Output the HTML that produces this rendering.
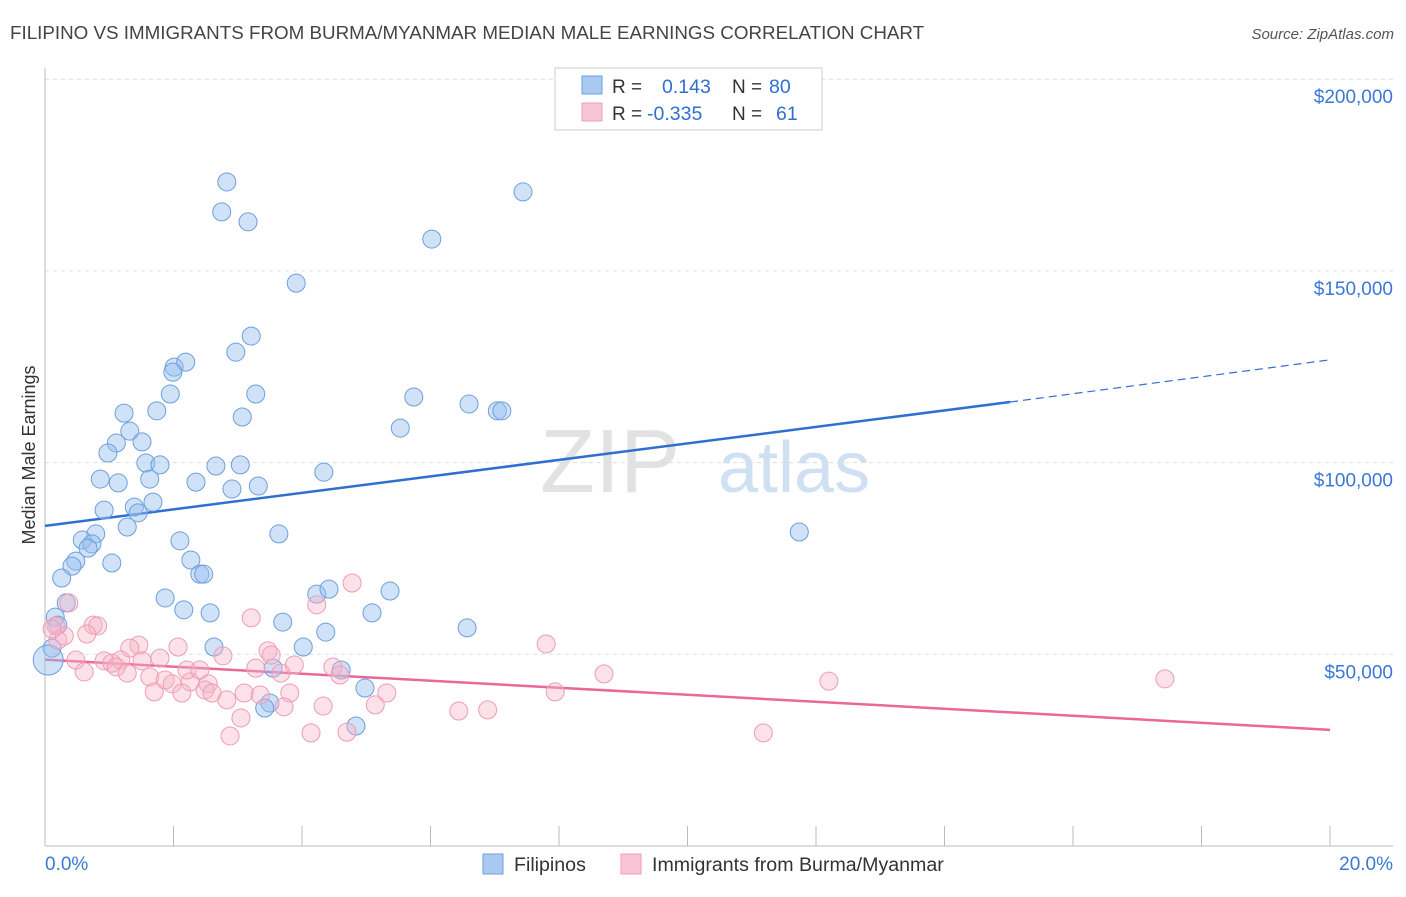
<!DOCTYPE html>
<html><head><meta charset="utf-8"><style>
body{margin:0;background:#fff;font-family:"Liberation Sans",sans-serif;}
svg text{font-family:"Liberation Sans",sans-serif;}
</style></head><body>
<svg id="chart" width="1406" height="892" xmlns="http://www.w3.org/2000/svg">
<text x="10" y="39" font-size="18.8" fill="#444">FILIPINO VS IMMIGRANTS FROM BURMA/MYANMAR MEDIAN MALE EARNINGS CORRELATION CHART</text>
<text x="1394" y="39" font-size="15" fill="#555" text-anchor="end" font-style="italic">Source: ZipAtlas.com</text>
<text x="680" y="492" font-size="90" fill="#e2e2e2" text-anchor="end" font-family="Liberation Serif">ZIP</text>
<text x="718" y="492" font-size="72" fill="#cfe0f3">atlas</text>
<text transform="translate(35,455) rotate(-90)" font-size="18" fill="#333" text-anchor="middle">Median Male Earnings</text>
<g id="grid"></g><g id="axes"></g><g id="trend"></g><g id="dots"></g>
<g>
<rect x="555" y="68" width="267" height="62" fill="#fff" stroke="#ccc"/>
<rect x="582" y="76" width="20" height="18" fill="#a9c9f2" stroke="#6d9fdc"/>
<rect x="582" y="103" width="20" height="18" fill="#f9c4d3" stroke="#ee9cb6"/>
<text x="612" y="93" font-size="19" fill="#333">R =</text><text x="662" y="93" font-size="19.5" fill="#2f6fd0">0.143</text>
<text x="732" y="93" font-size="19" fill="#333">N =</text><text x="769" y="93" font-size="19.5" fill="#2f6fd0">80</text>
<text x="612" y="120" font-size="19" fill="#333">R =</text><text x="647" y="120" font-size="19.5" fill="#2f6fd0">-0.335</text>
<text x="732" y="120" font-size="19" fill="#333">N =</text><text x="776" y="120" font-size="19.5" fill="#2f6fd0">61</text>
</g>
<g>
<rect x="483" y="854" width="20" height="20" fill="#a9c9f2" stroke="#6d9fdc"/>
<text x="514" y="871" font-size="19.6" fill="#333">Filipinos</text>
<rect x="621" y="854" width="20" height="20" fill="#f9c4d3" stroke="#ee9cb6"/>
<text x="652" y="871" font-size="19.6" fill="#333">Immigrants from Burma/Myanmar</text>
</g>
</svg>
<script>
const blueX=[2.83,2.75,3.16,7.44,6.02,3.91,3.21,2.97,2.01,2.19,1.99,1.95,3.28,5.74,6.60,7.04,7.11,1.23,1.74,3.07,1.32,5.53,1.11,1.51,0.98,1.57,1.79,2.66,3.04,4.34,0.86,1.14,1.63,2.35,2.91,3.32,1.68,1.39,0.92,1.45,1.28,3.64,11.74,0.79,0.58,0.73,0.67,2.10,2.27,0.48,0.42,1.04,2.41,2.47,0.26,1.87,2.16,2.57,0.33,4.23,4.42,5.37,5.09,0.16,0.20,3.70,4.37,6.57,2.63,4.02,0.11,0.05,3.55,4.61,4.98,3.50,3.42,4.84];
const blueY=[173.2,165.4,162.8,170.6,158.3,146.8,133.0,128.8,124.9,126.2,123.6,117.9,117.9,117.1,115.3,113.5,113.5,112.9,113.5,111.9,108.2,109.0,105.1,105.4,102.5,99.9,99.4,99.1,99.4,97.5,95.7,94.7,95.7,94.9,93.1,93.9,89.7,88.4,87.6,86.9,83.2,81.4,81.9,81.4,79.8,78.8,77.7,79.6,74.6,74.3,73.0,73.8,70.9,70.9,69.9,64.7,61.6,60.8,63.4,65.7,67.0,66.5,60.8,59.7,57.6,58.4,55.8,56.9,51.9,51.9,51.6,48.5,46.4,45.9,41.2,37.3,36.0,31.3];
const pinkX=[4.78,4.23,3.21,0.37,0.17,0.75,0.82,0.20,0.65,0.30,0.11,1.46,1.32,2.07,7.80,1.79,0.48,0.92,1.04,1.18,1.51,0.61,1.11,1.28,1.63,1.87,1.98,2.26,2.54,2.77,2.21,2.41,3.47,3.52,3.28,3.88,4.48,3.67,2.49,2.60,1.70,2.13,3.10,3.35,3.81,5.32,4.59,5.14,4.33,3.72,7.94,8.70,12.20,17.43,2.83,3.05,2.88,4.14,4.70,6.44,6.89,11.18];
const pinkY=[68.6,62.9,59.5,63.4,57.4,57.6,57.4,53.7,55.3,54.8,56.6,52.4,51.6,51.9,52.7,49.0,48.5,48.3,47.7,48.5,48.3,45.4,46.7,45.1,44.1,43.3,42.3,42.8,42.3,49.6,45.9,45.9,50.9,49.8,46.4,47.2,46.7,45.1,40.7,39.9,40.2,39.9,39.9,39.4,39.9,39.9,44.6,36.8,36.5,36.3,40.2,44.9,43.0,43.6,38.1,33.4,28.7,29.5,29.7,35.2,35.5,29.5];
const yTicks=[50,100,150,200];
const yTickLabels=["$50,000","$100,000","$150,000","$200,000"];
const blueTrend=[[0,83.5],[15.02,115.8],[20,126.8]];
const pinkTrend=[[0,48.6],[20,30.3]];
const NS="http://www.w3.org/2000/svg";
const sx=v=>45+v*64.25, sy=v=>846-v*3.834;
function mk(tag,attrs,parent){const e=document.createElementNS(NS,tag);for(const k in attrs)e.setAttribute(k,attrs[k]);document.getElementById(parent).appendChild(e);return e;}
yTicks.forEach((t,i)=>{
 const g=mk('line',{x1:45,x2:1393,y1:sy(t),y2:sy(t),stroke:'#ddd','stroke-dasharray':'4,4'},'grid');
 
 
 const l=mk('text',{x:1393,y:sy(t)+24,'font-size':19,fill:'#3a78d4','text-anchor':'end'},'grid');l.textContent=yTickLabels[i];
 
 
});
const ax=mk('line',{x1:45,x2:45,y1:68,y2:846,stroke:'#bbb'},'axes');


const bx=mk('line',{x1:45,x2:1393,y1:846,y2:846,stroke:'#bbb'},'axes');


for(let i=0;i<=10;i++){const t=mk('line',{x1:sx(i*2),x2:sx(i*2),y1:826,y2:846,stroke:'#bbb'},'axes');
 
 }
const xl0=mk('text',{x:45,y:870,'font-size':19,fill:'#3a78d4'},'axes');xl0.textContent='0.0%';


const xl1=mk('text',{x:1393,y:870,'font-size':19,fill:'#3a78d4','text-anchor':'end'},'axes');xl1.textContent='20.0%';


const bt1=mk('line',{x1:sx(blueTrend[0][0]),y1:sy(blueTrend[0][1]),x2:sx(blueTrend[1][0]),y2:sy(blueTrend[1][1]),stroke:'#2f6fd0','stroke-width':2.5},'trend');


const bt2=mk('line',{x1:sx(blueTrend[1][0]),y1:sy(blueTrend[1][1]),x2:sx(blueTrend[2][0]),y2:sy(blueTrend[2][1]),stroke:'#2f6fd0','stroke-width':1.2,'stroke-dasharray':'8,5'},'trend');


const pt=mk('line',{x1:sx(pinkTrend[0][0]),y1:sy(pinkTrend[0][1]),x2:sx(pinkTrend[1][0]),y2:sy(pinkTrend[1][1]),stroke:'#e8689a','stroke-width':2.5},'trend');


blueX.forEach((x,i)=>{const c=mk('circle',{cx:sx(x),cy:sy(blueY[i]),r:(i===71?15:9),fill:'rgba(150,190,240,0.45)',stroke:'#6d9fdc','stroke-width':1},'dots');
 
 });
pinkX.forEach((x,i)=>{const c=mk('circle',{cx:sx(x),cy:sy(pinkY[i]),r:9,fill:'rgba(248,180,200,0.4)',stroke:'#ee9cb6','stroke-width':1},'dots');
 
 });
</script>
</body></html>
